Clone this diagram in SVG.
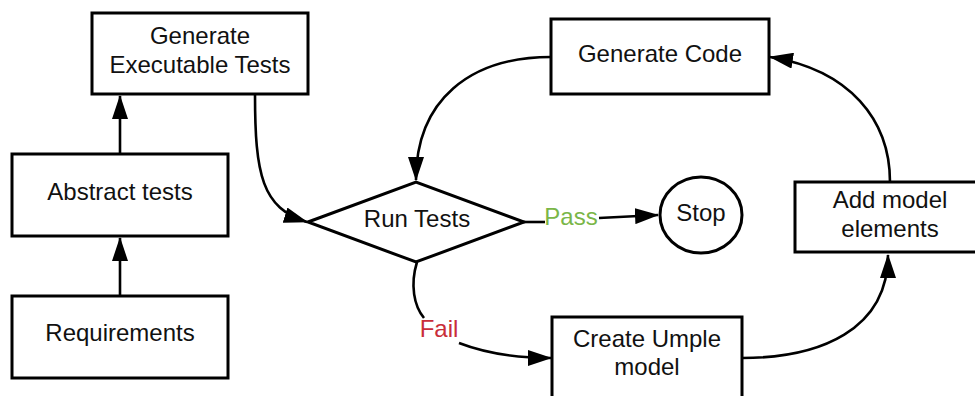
<svg xmlns="http://www.w3.org/2000/svg" width="975" height="396" viewBox="0 0 975 396">
  <style>
    .box { fill: #ffffff; stroke: #000000; stroke-width: 3; }
    .lbl { font-family: "Liberation Sans", Arial, sans-serif; font-size: 24px; fill: #111111; text-anchor: middle; }
    .edge { fill: none; stroke: #000000; stroke-width: 2.6; }
    .pass { fill: #7ab648; }
    .fail { fill: #c92d39; }
  </style>
  <defs>
    <marker id="arrow" viewBox="0 0 24 16" markerWidth="24" markerHeight="16" refX="23" refY="8" orient="auto" markerUnits="userSpaceOnUse">
      <path d="M0,0 L24,8 L0,16 z" fill="#000000"/>
    </marker>
  </defs>
  <rect width="975" height="396" fill="#ffffff"/>

  <g id="connectors">
    <path class="edge" d="M120,296 L120,238" marker-end="url(#arrow)"/>
    <path class="edge" d="M120,154 L120,96" marker-end="url(#arrow)"/>
    <path class="edge" d="M255,94 C255,175 262,208 307,222" marker-end="url(#arrow)"/>
    <path class="edge" d="M523,222 L545,222"/>
    <path class="edge" d="M599,218 L658,215" marker-end="url(#arrow)"/>
    <path class="edge" d="M417,262 C410,285 414,306 424,318"/>
    <path class="edge" d="M459,343 C485,353 515,358 551,358" marker-end="url(#arrow)"/>
    <path class="edge" d="M742,358 C820,358 888,330 888,255" marker-end="url(#arrow)"/>
    <path class="edge" d="M890,182 C890,120 850,70 770,57" marker-end="url(#arrow)"/>
    <path class="edge" d="M551,57 C470,57 416,100 416,180" marker-end="url(#arrow)"/>
    <text class="lbl pass" x="571" y="225">Pass</text>
    <text class="lbl fail" x="439" y="337">Fail</text>
  </g>

  <g id="requirements">
    <rect class="box" x="12" y="296" width="216" height="82"/>
    <text class="lbl" x="120" y="341">Requirements</text>
  </g>

  <g id="abstract-tests">
    <rect class="box" x="12" y="154" width="216" height="82"/>
    <text class="lbl" x="120" y="200">Abstract tests</text>
  </g>

  <g id="generate-executable-tests">
    <rect class="box" x="92" y="13" width="216" height="81"/>
    <text class="lbl" x="200" y="44">Generate</text>
    <text class="lbl" x="200" y="73">Executable Tests</text>
  </g>

  <g id="run-tests">
    <path class="box" d="M308,222 L416,182 L524,222 L416,262 z"/>
    <text class="lbl" x="417" y="227">Run Tests</text>
  </g>

  <g id="stop">
    <ellipse class="box" cx="701" cy="215" rx="41" ry="38"/>
    <text class="lbl" x="701" y="221">Stop</text>
  </g>

  <g id="generate-code">
    <rect class="box" x="551" y="19" width="218" height="75"/>
    <text class="lbl" x="660" y="62">Generate Code</text>
  </g>

  <g id="add-model-elements">
    <rect class="box" x="795" y="182" width="190" height="70"/>
    <text class="lbl" x="890" y="208">Add model</text>
    <text class="lbl" x="890" y="237">elements</text>
  </g>

  <g id="create-umple-model">
    <rect class="box" x="552" y="317" width="190" height="90"/>
    <text class="lbl" x="647" y="347">Create Umple</text>
    <text class="lbl" x="647" y="375">model</text>
  </g>
</svg>
